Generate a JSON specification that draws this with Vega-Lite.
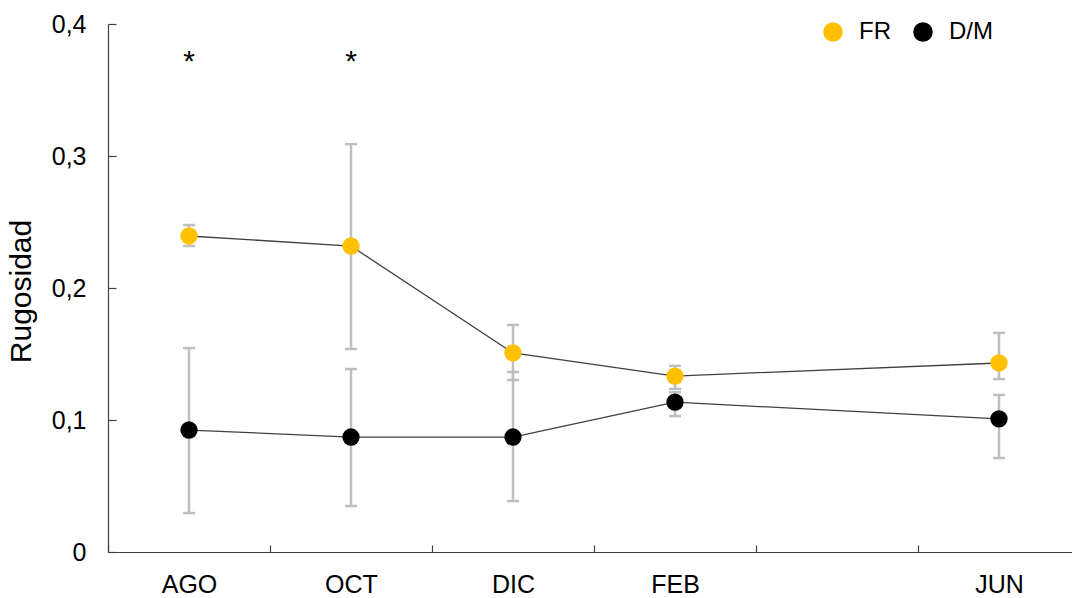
{
  "$schema": "https://vega.github.io/schema/vega-lite/v6.json",
  "width": 964,
  "height": 528,
  "autosize": "none",
  "padding": {"left": 108, "top": 24, "right": 0, "bottom": 46},
  "background": "white",
  "config": {
    "font": "Liberation Sans",
    "view": {"stroke": null},
    "axis": {"grid": false, "labelFont": "Liberation Sans", "titleFont": "Liberation Sans", "labelColor": "#000000", "titleColor": "#000000", "domainColor": "#404040", "tickColor": "#404040", "domainWidth": 1.2, "tickWidth": 1.2}
  },
  "datasets": {
    "main": [
      {"month": "AGO", "group": "FR", "value": 0.2394, "lo": 0.2318, "hi": 0.2477},
      {"month": "OCT", "group": "FR", "value": 0.2318, "lo": 0.1538, "hi": 0.309},
      {"month": "DIC", "group": "FR", "value": 0.1508, "lo": 0.1303, "hi": 0.172},
      {"month": "FEB", "group": "FR", "value": 0.1333, "lo": 0.1235, "hi": 0.141},
      {"month": "JUN", "group": "FR", "value": 0.1432, "lo": 0.131, "hi": 0.166},
      {"month": "AGO", "group": "D/M", "value": 0.0924, "lo": 0.0295, "hi": 0.1545},
      {"month": "OCT", "group": "D/M", "value": 0.0871, "lo": 0.0348, "hi": 0.1386},
      {"month": "DIC", "group": "D/M", "value": 0.0871, "lo": 0.0386, "hi": 0.1364},
      {"month": "FEB", "group": "D/M", "value": 0.1135, "lo": 0.103, "hi": 0.121},
      {"month": "JUN", "group": "D/M", "value": 0.1008, "lo": 0.0712, "hi": 0.119}
    ],
    "stars": [
      {"month": "AGO", "y": 0.3645, "label": "*"},
      {"month": "OCT", "y": 0.3645, "label": "*"}
    ]
  },
  "encoding": {
    "x": {
      "field": "month",
      "type": "nominal",
      "scale": {"type": "band", "domain": ["AGO", "OCT", "DIC", "FEB", "_", "JUN"], "range": [0, 972], "paddingInner": 0, "paddingOuter": 0},
      "axis": {"title": null, "labelAngle": 0, "labelFontSize": 25, "labelExpr": "datum.value == '_' ? '' : datum.value", "tickBand": "extent", "tickSize": -7, "labelPadding": 27}
    }
  },
  "layer": [
    {
      "data": {"name": "main"},
      "mark": {"type": "rule", "color": "#BFBFBF", "strokeWidth": 2.5},
      "encoding": {
        "y": {"field": "lo", "type": "quantitative", "scale": {"domain": [0, 0.4]},
          "axis": {"title": "Rugosidad", "titleFontSize": 30, "titleFontWeight": "normal", "titleX": -72, "titleY": 267, "titleAlign": "center", "values": [0, 0.1, 0.2, 0.3, 0.4], "labelFontSize": 25, "labelExpr": "datum.value == 0 ? '0' : replace(format(datum.value, '.1f'), '.', ',')", "tickSize": -8, "labelPadding": 30}},
        "y2": {"field": "hi"}
      }
    },
    {
      "data": {"name": "main"},
      "mark": {"type": "tick", "color": "#BFBFBF", "size": 12, "thickness": 2.5, "opacity": 1},
      "encoding": {"y": {"field": "lo", "type": "quantitative"}}
    },
    {
      "data": {"name": "main"},
      "mark": {"type": "tick", "color": "#BFBFBF", "size": 12, "thickness": 2.5, "opacity": 1},
      "encoding": {"y": {"field": "hi", "type": "quantitative"}}
    },
    {
      "data": {"name": "main"},
      "mark": {"type": "line", "color": "#404040", "strokeWidth": 1.3},
      "encoding": {
        "y": {"field": "value", "type": "quantitative"},
        "detail": {"field": "group"}
      }
    },
    {
      "data": {"name": "main"},
      "mark": {"type": "point", "filled": true, "opacity": 1, "size": 300, "shape": "circle"},
      "encoding": {
        "y": {"field": "value", "type": "quantitative"},
        "color": {
          "field": "group", "type": "nominal",
          "scale": {"domain": ["FR", "D/M"], "range": ["#FFC000", "#000000"]},
          "legend": {"title": null, "orient": "none", "direction": "horizontal", "legendX": 713, "legendY": -4, "symbolSize": 380, "symbolType": "circle", "symbolStrokeWidth": 0, "symbolOpacity": 1, "labelFontSize": 24, "labelFont": "Liberation Sans", "labelColor": "#000000", "labelOffset": 14, "columnPadding": 20}
        }
      }
    },
    {
      "data": {"name": "stars"},
      "mark": {"type": "text", "fontSize": 30, "baseline": "alphabetic", "color": "#000000", "font": "Liberation Sans"},
      "encoding": {
        "y": {"field": "y", "type": "quantitative"},
        "text": {"field": "label"}
      }
    }
  ]
}
